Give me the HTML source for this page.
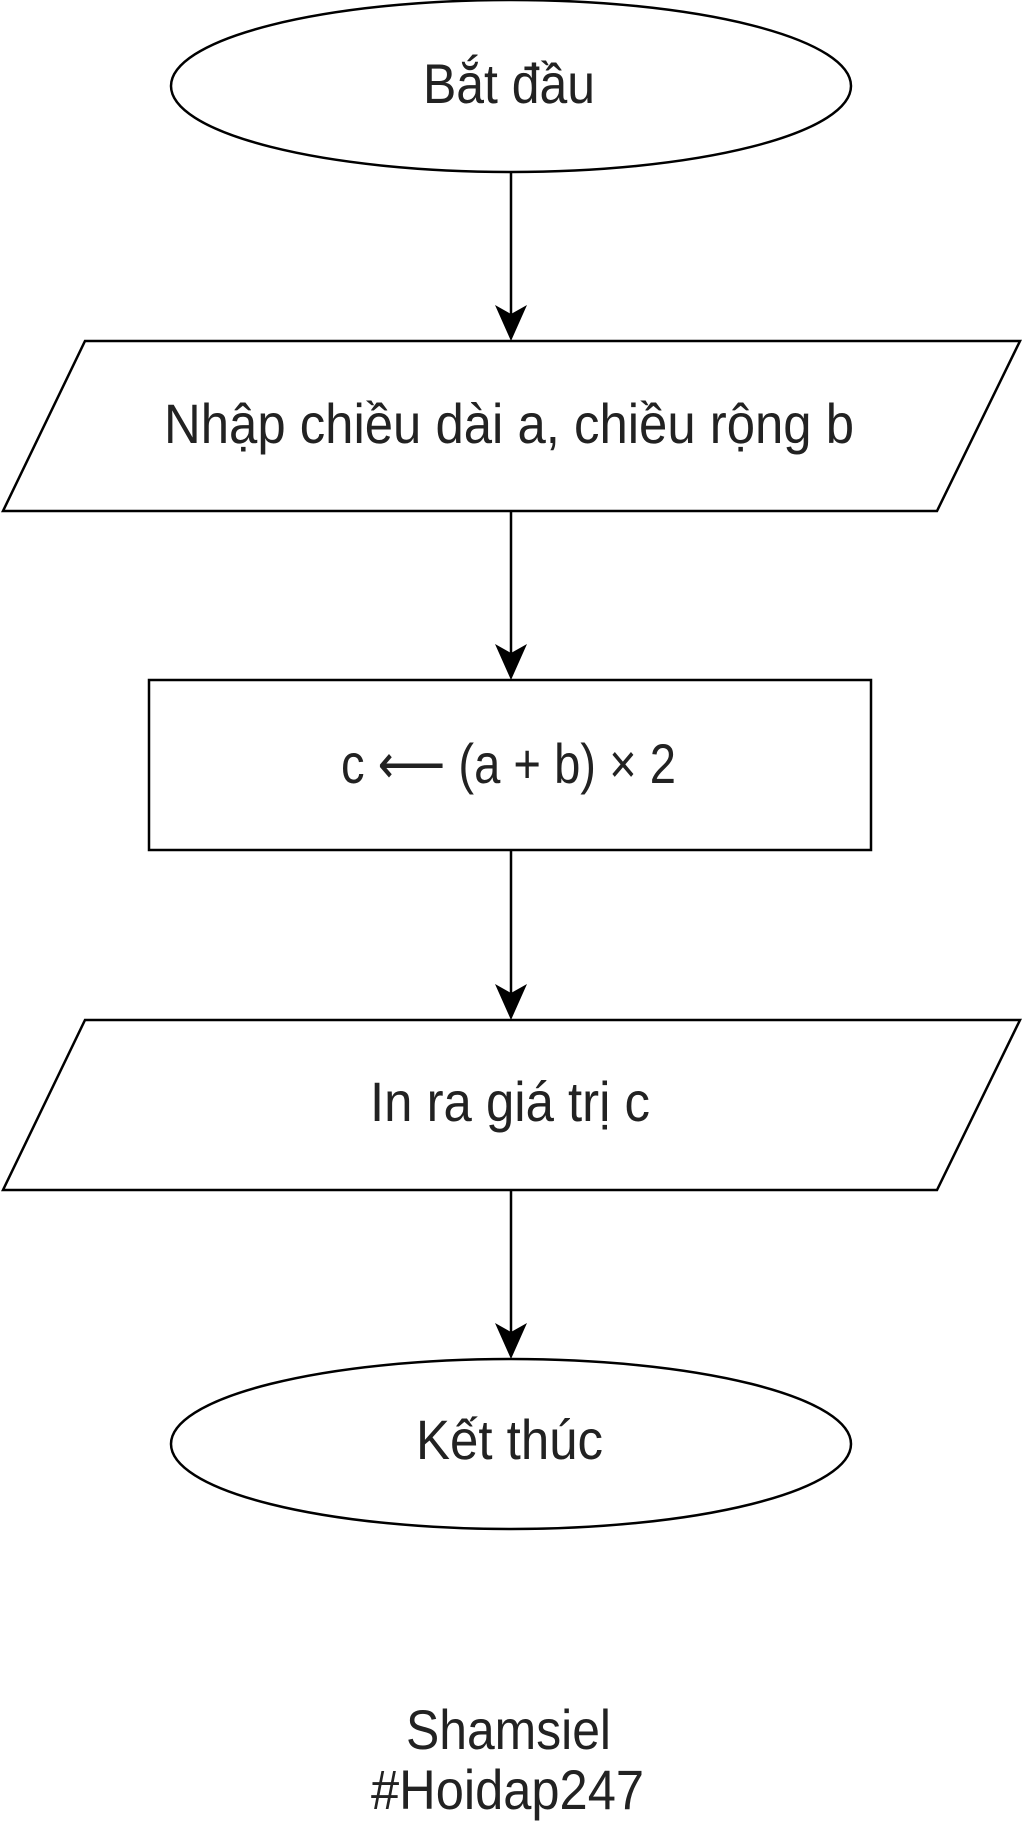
<!DOCTYPE html>
<html><head><meta charset="utf-8"><style>html,body{margin:0;padding:0;background:#fff}svg{display:block}</style></head>
<body>
<svg width="1024" height="1824" viewBox="0 0 1024 1824" xmlns="http://www.w3.org/2000/svg">
<g fill="#fff" stroke="#000" stroke-width="2.5">
<ellipse cx="511" cy="86" rx="340" ry="86"/>
<polygon points="85,341 1020,341 937,511 3,511"/>
<rect x="149" y="680" width="722" height="170"/>
<polygon points="85,1020 1020,1020 937,1190 3,1190"/>
<ellipse cx="511" cy="1444" rx="340" ry="85"/>
</g>
<g stroke="#000" stroke-width="2.5">
<line x1="511" y1="173" x2="511" y2="315"/>
<line x1="511" y1="511" x2="511" y2="654"/>
<line x1="511" y1="850" x2="511" y2="994"/>
<line x1="511" y1="1190" x2="511" y2="1333"/>
</g>
<g fill="#000">
<polygon points="511,341 495,305 511,314 527,305"/>
<polygon points="511,680 495,644 511,653 527,644"/>
<polygon points="511,1020 495,984 511,993 527,984"/>
<polygon points="511,1359 495,1323 511,1332 527,1323"/>
</g>
<g font-family="Liberation Sans, sans-serif" font-size="56" fill="#222">
<text x="423" y="103" textLength="172" lengthAdjust="spacingAndGlyphs">Bắt đầu</text>
<text x="164" y="443" textLength="690" lengthAdjust="spacingAndGlyphs">Nhập chiều dài a, chiều rộng b</text>
<text x="341" y="783" textLength="335" lengthAdjust="spacingAndGlyphs">c ⟵ (a + b) × 2</text>
<text x="370" y="1121" textLength="280" lengthAdjust="spacingAndGlyphs">In ra giá trị c</text>
<text x="416" y="1459" textLength="187" lengthAdjust="spacingAndGlyphs">Kết thúc</text>
<text x="406" y="1749" textLength="205" lengthAdjust="spacingAndGlyphs">Shamsiel</text>
<text x="371" y="1809" textLength="273" lengthAdjust="spacingAndGlyphs">#Hoidap247</text>
</g>
</svg>
</body></html>
